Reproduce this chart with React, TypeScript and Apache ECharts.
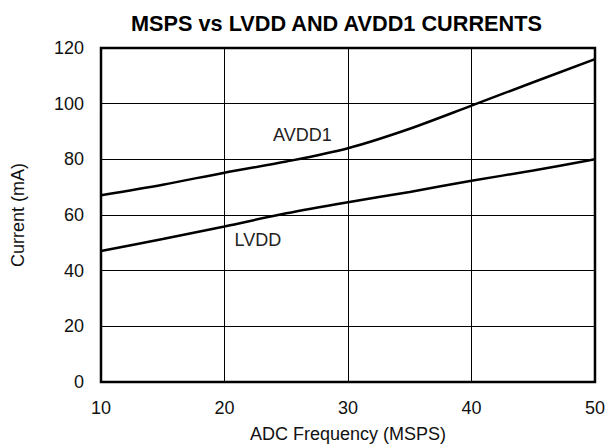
import React, { useEffect, useRef } from "react";
import * as echarts from "echarts";

const freqMSPS = [10, 15, 20, 25, 30, 35, 40, 45, 50];
const avdd1mA = [67.1, 70.9, 75.2, 79.2, 84.0, 91.0, 99.3, 107.7, 116.0];
const lvddmA = [47.1, 51.4, 55.9, 60.6, 64.6, 68.3, 72.3, 76.0, 80.0];
const xTicks = [10, 20, 30, 40, 50];
const yTicks = [0, 20, 40, 60, 80, 100, 120];

const FONT = "'Liberation Sans', Arial, Helvetica, sans-serif";

export default function App() {
  const ref = useRef<HTMLDivElement>(null);
  useEffect(() => {
    if (!ref.current) return;
    const chart = echarts.init(ref.current, undefined, { renderer: "svg" });
    const toPairs = (ys: number[]) => freqMSPS.map((x, i) => [x, ys[i]]);
    chart.setOption({
      animation: false,
      backgroundColor: "#fff",
      textStyle: { fontFamily: FONT },
      title: {
        text: "MSPS vs LVDD AND AVDD1 CURRENTS",
        left: 131,
        top: 12,
        padding: 0,
        textStyle: { fontFamily: FONT, fontWeight: "bold", fontSize: 21.7, color: "#000" },
      },
      grid: {
        left: 101,
        right: 11,
        top: 48,
        bottom: 65,
        show: true,
        borderColor: "#000",
        borderWidth: 2.5,
        containLabel: false,
      },
      xAxis: {
        type: "value",
        min: xTicks[0],
        max: xTicks[xTicks.length - 1],
        interval: 10,
        name: "ADC Frequency (MSPS)",
        nameLocation: "middle",
        nameGap: 43,
        nameTextStyle: { fontFamily: FONT, fontSize: 18, color: "#111" },
        axisLine: { show: false },
        axisTick: { show: false },
        axisLabel: { fontFamily: FONT, fontSize: 18, color: "#111", margin: 17 },
        splitLine: { show: true, lineStyle: { color: "#000", width: 1 } },
      },
      yAxis: {
        type: "value",
        min: yTicks[0],
        max: yTicks[yTicks.length - 1],
        interval: 20,
        name: "Current (mA)",
        nameLocation: "middle",
        nameGap: 74,
        nameRotate: 90,
        nameTextStyle: { fontFamily: FONT, fontSize: 18, color: "#111" },
        axisLine: { show: false },
        axisTick: { show: false },
        axisLabel: { fontFamily: FONT, fontSize: 18, color: "#111", margin: 17 },
        splitLine: { show: true, lineStyle: { color: "#000", width: 1 } },
      },
      series: [
        {
          name: "AVDD1",
          type: "line",
          data: toPairs(avdd1mA),
          smooth: 0.3,
          showSymbol: false,
          lineStyle: { color: "#000", width: 2.5 },
          markPoint: {
            symbol: "circle",
            symbolSize: 0,
            label: {
              show: true,
              formatter: "AVDD1",
              fontFamily: FONT,
              fontSize: 18,
              color: "#222",
              position: "inside",
            },
            data: [{ coord: [26.3, 88.6] }],
          },
        },
        {
          name: "LVDD",
          type: "line",
          data: toPairs(lvddmA),
          smooth: 0.3,
          showSymbol: false,
          lineStyle: { color: "#000", width: 2.5 },
          markPoint: {
            symbol: "circle",
            symbolSize: 0,
            label: {
              show: true,
              formatter: "LVDD",
              fontFamily: FONT,
              fontSize: 18,
              color: "#222",
              position: "inside",
            },
            data: [{ coord: [22.7, 51.1] }],
          },
        },
      ],
    });
    return () => chart.dispose();
  }, []);
  return (
    <div
      ref={ref}
      style={{ position: "fixed", left: 0, top: 0, width: 608, height: 448 }}
    />
  );
}
